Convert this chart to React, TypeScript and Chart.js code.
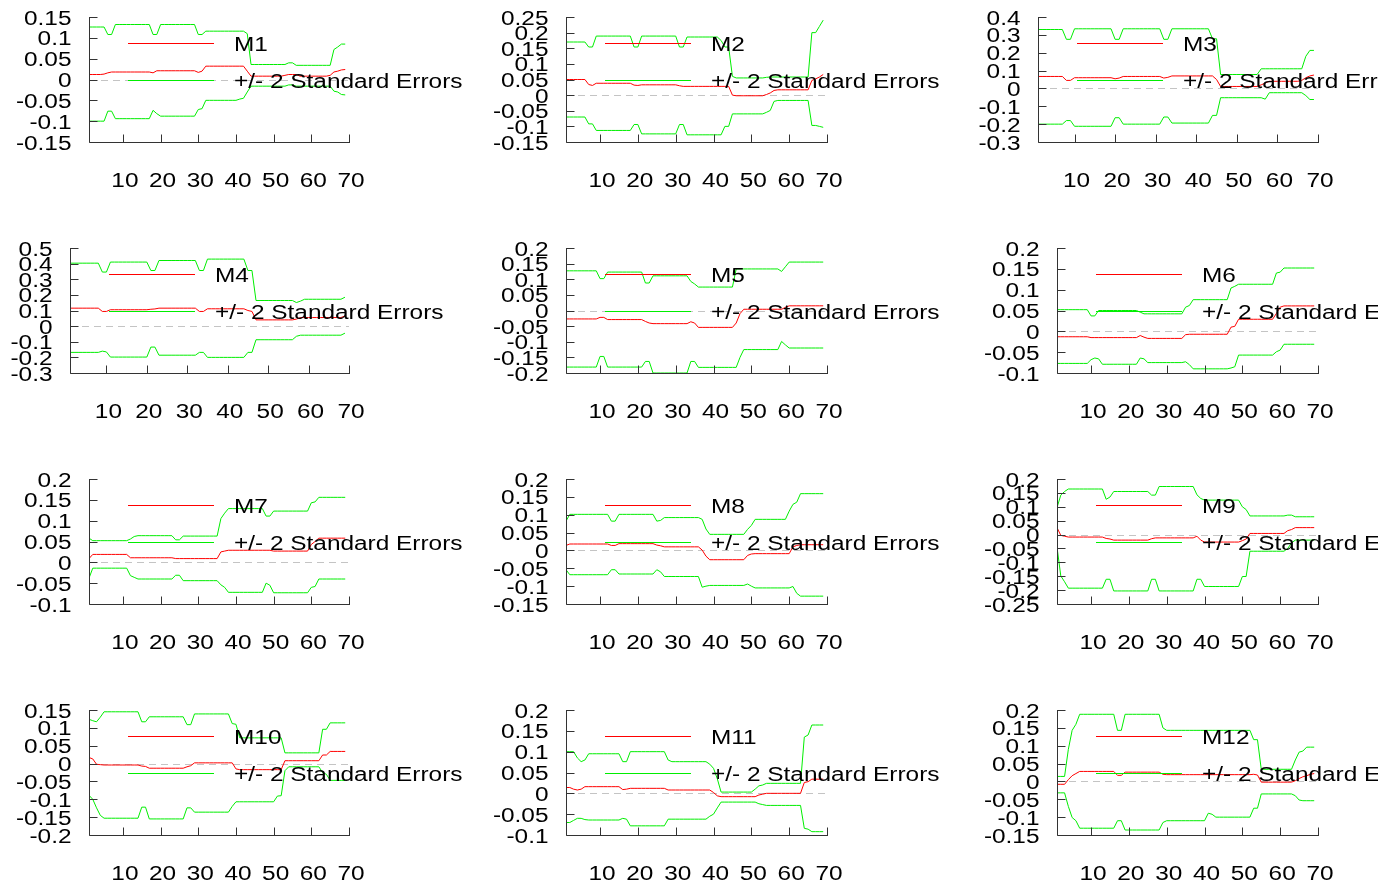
import React, { useEffect, useRef } from "react";
import { Chart, registerables } from "chart.js";
Chart.register(...registerables);

// ---------------- data ----------------
const periods = [
  1, 2, 3, 4, 5, 6, 7, 8, 9, 10, 11, 12, 13, 14, 15, 16, 17, 18, 19, 20,
  21, 22, 23, 24, 25, 26, 27, 28, 29, 30, 31, 32, 33, 34, 35, 36, 37, 38, 39, 40,
  41, 42, 43, 44, 45, 46, 47, 48, 49, 50, 51, 52, 53, 54, 55, 56, 57, 58, 59, 60,
  61, 62, 63, 64, 65, 66, 67, 68, 69,
];
const xTickValues = [10, 20, 30, 40, 50, 60, 70];
const panelTitles = ["M1", "M2", "M3", "M4", "M5", "M6", "M7", "M8", "M9", "M10", "M11", "M12"];
const bandLabel = "+/- 2 Standard Errors";

const yTicksM1 = [-0.15, -0.1, -0.05, 0, 0.05, 0.1, 0.15];
const yTicksM2 = [-0.15, -0.1, -0.05, 0, 0.05, 0.1, 0.15, 0.2, 0.25];
const yTicksM3 = [-0.3, -0.2, -0.1, 0, 0.1, 0.2, 0.3, 0.4];
const yTicksM4 = [-0.3, -0.2, -0.1, 0, 0.1, 0.2, 0.3, 0.4, 0.5];
const yTicksM5 = [-0.2, -0.15, -0.1, -0.05, 0, 0.05, 0.1, 0.15, 0.2];
const yTicksM6 = [-0.1, -0.05, 0, 0.05, 0.1, 0.15, 0.2];
const yTicksM7 = [-0.1, -0.05, 0, 0.05, 0.1, 0.15, 0.2];
const yTicksM8 = [-0.15, -0.1, -0.05, 0, 0.05, 0.1, 0.15, 0.2];
const yTicksM9 = [-0.25, -0.2, -0.15, -0.1, -0.05, 0, 0.05, 0.1, 0.15, 0.2];
const yTicksM10 = [-0.2, -0.15, -0.1, -0.05, 0, 0.05, 0.1, 0.15];
const yTicksM11 = [-0.1, -0.05, 0, 0.05, 0.1, 0.15, 0.2];
const yTicksM12 = [-0.15, -0.1, -0.05, 0, 0.05, 0.1, 0.15, 0.2];

const coefM1 = [
  0.012,0.012,0.012,0.012,0.013,0.016,0.018,0.018,0.018,0.018,
  0.018,0.018,0.018,0.018,0.018,0.018,0.018,0.016,0.021,0.021,
  0.021,0.021,0.021,0.021,0.021,0.021,0.021,0.021,0.021,0.017,
  0.020,0.032,0.032,0.032,0.032,0.032,0.032,0.032,0.032,0.032,
  0.032,0.032,0.020,0.008,0.008,0.008,0.008,0.008,0.008,0.008,
  0.008,0.008,0.010,0.012,0.012,0.012,0.008,0.008,0.008,0.008,
  0.008,0.008,0.008,0.008,0.010,0.018,0.020,0.023,0.024];
const upperM1 = [
  0.126,0.126,0.126,0.126,0.126,0.108,0.108,0.132,0.132,0.132,
  0.132,0.132,0.132,0.132,0.132,0.132,0.132,0.108,0.108,0.132,
  0.132,0.132,0.132,0.132,0.132,0.132,0.132,0.132,0.132,0.108,
  0.108,0.116,0.116,0.116,0.116,0.116,0.116,0.116,0.116,0.116,
  0.116,0.116,0.110,0.036,0.036,0.036,0.036,0.036,0.036,0.036,
  0.036,0.036,0.036,0.040,0.040,0.034,0.034,0.034,0.034,0.034,
  0.034,0.034,0.034,0.034,0.034,0.072,0.078,0.085,0.085];
const lowerM1 = [
  -0.100,-0.100,-0.100,-0.100,-0.100,-0.076,-0.076,-0.094,-0.094,-0.094,
  -0.094,-0.094,-0.094,-0.094,-0.094,-0.094,-0.094,-0.074,-0.082,-0.088,
  -0.088,-0.088,-0.088,-0.088,-0.088,-0.088,-0.088,-0.088,-0.088,-0.072,
  -0.070,-0.050,-0.050,-0.050,-0.050,-0.050,-0.050,-0.050,-0.050,-0.050,
  -0.047,-0.045,-0.030,-0.016,-0.016,-0.016,-0.016,-0.016,-0.016,-0.016,
  -0.016,-0.016,-0.016,-0.013,-0.013,-0.016,-0.016,-0.016,-0.016,-0.016,
  -0.016,-0.016,-0.016,-0.016,-0.016,-0.028,-0.030,-0.036,-0.037];

const coefM2 = [
  0.050,0.050,0.050,0.050,0.050,0.050,0.034,0.031,0.038,0.038,
  0.038,0.038,0.038,0.038,0.038,0.038,0.038,0.038,0.032,0.031,
  0.033,0.033,0.033,0.033,0.033,0.033,0.033,0.033,0.033,0.033,
  0.030,0.028,0.028,0.028,0.028,0.028,0.028,0.028,0.028,0.028,
  0.028,0.028,0.028,0.028,0.000,-0.002,-0.002,-0.002,-0.002,-0.002,
  -0.002,-0.002,-0.002,0.002,0.007,0.015,0.017,0.017,0.017,0.017,
  0.017,0.017,0.017,0.017,0.017,0.047,0.052,0.058,0.066];
const upperM2 = [
  0.170,0.170,0.170,0.170,0.170,0.170,0.154,0.154,0.189,0.189,
  0.189,0.189,0.189,0.189,0.189,0.189,0.189,0.189,0.154,0.154,
  0.189,0.189,0.189,0.189,0.189,0.189,0.189,0.189,0.189,0.189,
  0.154,0.154,0.186,0.186,0.186,0.186,0.186,0.186,0.186,0.186,
  0.186,0.175,0.154,0.154,0.060,0.055,0.055,0.055,0.055,0.055,
  0.055,0.055,0.055,0.057,0.058,0.058,0.058,0.058,0.058,0.058,
  0.058,0.058,0.058,0.058,0.058,0.200,0.200,0.220,0.240];
const lowerM2 = [
  -0.070,-0.070,-0.070,-0.070,-0.070,-0.070,-0.092,-0.092,-0.113,-0.113,
  -0.113,-0.113,-0.113,-0.113,-0.113,-0.113,-0.113,-0.113,-0.094,-0.094,
  -0.124,-0.124,-0.124,-0.124,-0.124,-0.124,-0.124,-0.124,-0.124,-0.124,
  -0.094,-0.094,-0.127,-0.127,-0.127,-0.127,-0.127,-0.127,-0.127,-0.127,
  -0.127,-0.127,-0.100,-0.100,-0.060,-0.060,-0.060,-0.060,-0.060,-0.060,
  -0.060,-0.060,-0.060,-0.055,-0.049,-0.020,-0.017,-0.017,-0.017,-0.017,
  -0.017,-0.017,-0.017,-0.017,-0.017,-0.097,-0.097,-0.100,-0.103];

const coefM3 = [
  0.067,0.067,0.067,0.067,0.067,0.067,0.067,0.045,0.045,0.060,
  0.060,0.060,0.060,0.060,0.060,0.060,0.060,0.060,0.060,0.054,
  0.058,0.067,0.067,0.067,0.067,0.067,0.067,0.067,0.067,0.067,
  0.067,0.058,0.062,0.070,0.070,0.070,0.070,0.070,0.070,0.070,
  0.070,0.070,0.070,0.070,0.050,0.011,0.011,0.011,0.011,0.011,
  0.011,0.011,0.011,0.011,0.011,0.020,0.030,0.040,0.040,0.040,
  0.040,0.040,0.040,0.040,0.040,0.045,0.060,0.070,0.075];
const upperM3 = [
  0.330,0.330,0.330,0.330,0.330,0.330,0.330,0.275,0.275,0.334,
  0.334,0.334,0.334,0.334,0.334,0.334,0.334,0.334,0.334,0.275,
  0.275,0.334,0.334,0.334,0.334,0.334,0.334,0.334,0.334,0.334,
  0.334,0.275,0.275,0.334,0.334,0.334,0.334,0.334,0.334,0.334,
  0.334,0.334,0.334,0.278,0.278,0.078,0.078,0.078,0.078,0.078,
  0.078,0.078,0.078,0.078,0.078,0.110,0.110,0.110,0.110,0.110,
  0.110,0.110,0.110,0.110,0.110,0.110,0.180,0.213,0.213];
const lowerM3 = [
  -0.200,-0.200,-0.200,-0.200,-0.200,-0.200,-0.200,-0.180,-0.180,-0.212,
  -0.212,-0.212,-0.212,-0.212,-0.212,-0.212,-0.212,-0.212,-0.212,-0.164,
  -0.164,-0.200,-0.200,-0.200,-0.200,-0.200,-0.200,-0.200,-0.200,-0.200,
  -0.200,-0.160,-0.160,-0.194,-0.194,-0.194,-0.194,-0.194,-0.194,-0.194,
  -0.194,-0.194,-0.194,-0.151,-0.151,-0.052,-0.052,-0.052,-0.052,-0.052,
  -0.052,-0.052,-0.052,-0.052,-0.052,-0.052,-0.060,-0.024,-0.024,-0.024,
  -0.024,-0.024,-0.024,-0.024,-0.024,-0.024,-0.040,-0.062,-0.062];

const coefM4 = [
  0.115,0.115,0.115,0.115,0.115,0.115,0.115,0.115,0.094,0.094,
  0.105,0.105,0.105,0.105,0.105,0.105,0.105,0.105,0.105,0.105,
  0.108,0.110,0.115,0.115,0.115,0.115,0.115,0.115,0.115,0.115,
  0.115,0.115,0.094,0.094,0.111,0.111,0.111,0.111,0.111,0.111,
  0.111,0.111,0.111,0.111,0.100,0.094,0.040,0.040,0.040,0.040,
  0.040,0.040,0.040,0.040,0.040,0.040,0.045,0.055,0.055,0.055,
  0.055,0.055,0.055,0.055,0.055,0.055,0.055,0.055,0.065];
const upperM4 = [
  0.403,0.403,0.403,0.403,0.403,0.403,0.403,0.403,0.346,0.346,
  0.410,0.410,0.410,0.410,0.410,0.410,0.410,0.410,0.410,0.410,
  0.356,0.356,0.420,0.420,0.420,0.420,0.420,0.420,0.420,0.420,
  0.420,0.420,0.356,0.356,0.429,0.429,0.429,0.429,0.429,0.429,
  0.429,0.429,0.429,0.429,0.356,0.356,0.164,0.164,0.164,0.164,
  0.164,0.164,0.164,0.164,0.164,0.164,0.151,0.160,0.172,0.172,
  0.172,0.172,0.172,0.172,0.172,0.172,0.172,0.172,0.185];
const lowerM4 = [
  -0.168,-0.168,-0.168,-0.168,-0.168,-0.168,-0.168,-0.168,-0.160,-0.165,
  -0.198,-0.198,-0.198,-0.198,-0.198,-0.198,-0.198,-0.198,-0.198,-0.198,
  -0.134,-0.134,-0.186,-0.186,-0.186,-0.186,-0.186,-0.186,-0.186,-0.186,
  -0.186,-0.186,-0.168,-0.168,-0.200,-0.200,-0.200,-0.200,-0.200,-0.200,
  -0.200,-0.200,-0.200,-0.200,-0.168,-0.168,-0.087,-0.087,-0.087,-0.087,
  -0.087,-0.087,-0.087,-0.087,-0.087,-0.087,-0.065,-0.058,-0.058,-0.058,
  -0.058,-0.058,-0.058,-0.058,-0.058,-0.058,-0.058,-0.058,-0.045];

const coefM5 = [
  -0.027,-0.027,-0.027,-0.027,-0.027,-0.027,-0.027,-0.027,-0.027,-0.022,
  -0.022,-0.029,-0.029,-0.029,-0.029,-0.029,-0.029,-0.029,-0.029,-0.029,
  -0.029,-0.035,-0.040,-0.042,-0.042,-0.042,-0.042,-0.042,-0.042,-0.042,
  -0.042,-0.042,-0.042,-0.036,-0.040,-0.054,-0.054,-0.054,-0.054,-0.054,
  -0.054,-0.054,-0.054,-0.054,-0.054,-0.040,-0.010,0.004,0.004,0.004,
  0.004,0.004,0.004,0.004,0.004,0.004,0.004,0.004,0.010,0.015,
  0.015,0.015,0.015,0.015,0.015,0.015,0.015,0.015,0.015];
const upperM5 = [
  0.127,0.127,0.127,0.127,0.127,0.127,0.127,0.127,0.127,0.102,
  0.102,0.123,0.123,0.123,0.123,0.123,0.123,0.123,0.123,0.123,
  0.123,0.088,0.088,0.111,0.111,0.111,0.111,0.111,0.111,0.111,
  0.111,0.111,0.111,0.093,0.085,0.075,0.075,0.075,0.075,0.075,
  0.075,0.075,0.075,0.075,0.075,0.133,0.133,0.133,0.133,0.133,
  0.133,0.133,0.133,0.133,0.133,0.133,0.133,0.125,0.140,0.155,
  0.155,0.155,0.155,0.155,0.155,0.155,0.155,0.155,0.155];
const lowerM5 = [
  -0.181,-0.181,-0.181,-0.181,-0.181,-0.181,-0.181,-0.181,-0.181,-0.147,
  -0.147,-0.181,-0.181,-0.181,-0.181,-0.181,-0.181,-0.181,-0.181,-0.181,
  -0.181,-0.163,-0.163,-0.200,-0.200,-0.200,-0.200,-0.200,-0.200,-0.200,
  -0.200,-0.200,-0.200,-0.163,-0.163,-0.182,-0.182,-0.182,-0.182,-0.182,
  -0.182,-0.182,-0.182,-0.182,-0.182,-0.182,-0.150,-0.125,-0.125,-0.125,
  -0.125,-0.125,-0.125,-0.125,-0.125,-0.125,-0.125,-0.099,-0.110,-0.120,
  -0.120,-0.120,-0.120,-0.120,-0.120,-0.120,-0.120,-0.120,-0.120];

const coefM6 = [
  -0.013,-0.013,-0.013,-0.013,-0.013,-0.013,-0.013,-0.013,-0.013,-0.015,
  -0.015,-0.015,-0.015,-0.015,-0.015,-0.015,-0.015,-0.015,-0.015,-0.015,
  -0.015,-0.015,-0.010,-0.014,-0.017,-0.017,-0.017,-0.017,-0.017,-0.017,
  -0.017,-0.017,-0.017,-0.017,-0.008,-0.007,-0.007,-0.007,-0.007,-0.007,
  -0.007,-0.007,-0.007,-0.007,-0.007,-0.007,0.010,0.012,0.029,0.029,
  0.029,0.029,0.029,0.029,0.029,0.029,0.029,0.029,0.043,0.058,
  0.061,0.061,0.061,0.061,0.061,0.061,0.061,0.061,0.061];
const upperM6 = [
  0.052,0.052,0.052,0.052,0.052,0.052,0.052,0.052,0.052,0.037,
  0.037,0.050,0.050,0.050,0.050,0.050,0.050,0.050,0.050,0.050,
  0.050,0.050,0.046,0.042,0.042,0.042,0.042,0.042,0.042,0.042,
  0.042,0.042,0.042,0.042,0.058,0.062,0.076,0.076,0.076,0.076,
  0.076,0.076,0.076,0.076,0.076,0.076,0.104,0.108,0.113,0.113,
  0.113,0.113,0.113,0.113,0.113,0.113,0.113,0.113,0.140,0.142,
  0.152,0.152,0.152,0.152,0.152,0.152,0.152,0.152,0.152];
const lowerM6 = [
  -0.077,-0.077,-0.077,-0.077,-0.077,-0.077,-0.077,-0.077,-0.077,-0.068,
  -0.064,-0.066,-0.079,-0.079,-0.079,-0.079,-0.079,-0.079,-0.079,-0.079,
  -0.079,-0.079,-0.064,-0.066,-0.075,-0.075,-0.075,-0.075,-0.075,-0.075,
  -0.075,-0.075,-0.075,-0.075,-0.073,-0.080,-0.090,-0.090,-0.090,-0.090,
  -0.090,-0.090,-0.090,-0.090,-0.090,-0.090,-0.088,-0.085,-0.057,-0.057,
  -0.057,-0.057,-0.057,-0.057,-0.057,-0.057,-0.057,-0.057,-0.049,-0.045,
  -0.031,-0.031,-0.031,-0.031,-0.031,-0.031,-0.031,-0.031,-0.031];

const coefM7 = [
  0.009,0.019,0.019,0.019,0.019,0.019,0.019,0.019,0.019,0.019,
  0.019,0.011,0.011,0.011,0.011,0.011,0.011,0.011,0.011,0.011,
  0.011,0.011,0.011,0.009,0.009,0.009,0.009,0.009,0.009,0.009,
  0.009,0.009,0.009,0.009,0.009,0.025,0.027,0.029,0.029,0.029,
  0.029,0.029,0.029,0.029,0.029,0.029,0.029,0.029,0.029,0.027,
  0.027,0.027,0.027,0.027,0.027,0.027,0.027,0.027,0.027,0.043,
  0.050,0.058,0.058,0.058,0.058,0.058,0.058,0.058,0.058];
const upperM7 = [
  0.058,0.052,0.052,0.052,0.052,0.052,0.052,0.052,0.052,0.052,
  0.052,0.056,0.062,0.064,0.064,0.064,0.064,0.064,0.064,0.064,
  0.064,0.064,0.064,0.054,0.054,0.063,0.063,0.063,0.063,0.063,
  0.063,0.063,0.063,0.063,0.063,0.105,0.118,0.129,0.129,0.129,
  0.129,0.129,0.129,0.129,0.129,0.129,0.129,0.111,0.111,0.123,
  0.123,0.123,0.123,0.123,0.123,0.123,0.123,0.123,0.123,0.143,
  0.145,0.156,0.156,0.156,0.156,0.156,0.156,0.156,0.156];
const lowerM7 = [
  -0.038,-0.014,-0.014,-0.014,-0.014,-0.014,-0.014,-0.014,-0.014,-0.014,
  -0.014,-0.032,-0.036,-0.040,-0.040,-0.040,-0.040,-0.040,-0.040,-0.040,
  -0.040,-0.040,-0.040,-0.031,-0.031,-0.044,-0.044,-0.044,-0.044,-0.044,
  -0.044,-0.044,-0.044,-0.044,-0.044,-0.054,-0.060,-0.072,-0.072,-0.072,
  -0.072,-0.072,-0.072,-0.072,-0.072,-0.072,-0.072,-0.050,-0.055,-0.073,
  -0.073,-0.073,-0.073,-0.073,-0.073,-0.073,-0.073,-0.073,-0.073,-0.060,
  -0.058,-0.040,-0.040,-0.040,-0.040,-0.040,-0.040,-0.040,-0.040];

const coefM8 = [
  0.014,0.018,0.018,0.018,0.018,0.018,0.018,0.018,0.018,0.018,
  0.018,0.018,0.014,0.014,0.019,0.019,0.019,0.019,0.019,0.019,
  0.019,0.019,0.019,0.019,0.015,0.013,0.010,0.010,0.010,0.010,
  0.010,0.010,0.010,0.010,0.010,0.010,0.001,-0.016,-0.026,-0.026,
  -0.026,-0.026,-0.026,-0.026,-0.026,-0.026,-0.026,-0.026,-0.014,-0.010,
  -0.009,-0.009,-0.009,-0.009,-0.009,-0.009,-0.009,-0.009,-0.009,-0.009,
  0.010,0.014,0.016,0.016,0.016,0.016,0.016,0.016,0.016];
const upperM8 = [
  0.082,0.101,0.101,0.101,0.101,0.101,0.101,0.101,0.101,0.101,
  0.101,0.101,0.082,0.082,0.101,0.101,0.101,0.101,0.101,0.101,
  0.101,0.101,0.101,0.101,0.082,0.084,0.092,0.092,0.092,0.092,
  0.092,0.092,0.092,0.092,0.092,0.092,0.087,0.060,0.045,0.045,
  0.045,0.045,0.045,0.045,0.045,0.045,0.045,0.045,0.059,0.070,
  0.087,0.087,0.087,0.087,0.087,0.087,0.087,0.087,0.087,0.110,
  0.129,0.135,0.159,0.159,0.159,0.159,0.159,0.159,0.159];
const lowerM8 = [
  -0.054,-0.068,-0.068,-0.068,-0.068,-0.068,-0.068,-0.068,-0.068,-0.068,
  -0.068,-0.068,-0.054,-0.054,-0.066,-0.066,-0.066,-0.066,-0.066,-0.066,
  -0.066,-0.066,-0.066,-0.066,-0.054,-0.060,-0.073,-0.073,-0.073,-0.073,
  -0.073,-0.073,-0.073,-0.073,-0.073,-0.073,-0.103,-0.100,-0.098,-0.098,
  -0.098,-0.098,-0.098,-0.098,-0.098,-0.098,-0.098,-0.098,-0.094,-0.100,
  -0.105,-0.105,-0.105,-0.105,-0.105,-0.105,-0.105,-0.105,-0.105,-0.105,
  -0.101,-0.120,-0.128,-0.128,-0.128,-0.128,-0.128,-0.128,-0.128];

const coefM9 = [
  0.025,-0.003,-0.006,-0.009,-0.009,-0.009,-0.009,-0.009,-0.009,-0.009,
  -0.009,-0.009,-0.009,-0.014,-0.016,-0.020,-0.020,-0.020,-0.020,-0.020,
  -0.020,-0.020,-0.020,-0.020,-0.020,-0.015,-0.012,-0.012,-0.012,-0.012,
  -0.012,-0.012,-0.012,-0.012,-0.012,-0.012,-0.012,-0.006,-0.020,-0.027,
  -0.027,-0.027,-0.027,-0.027,-0.027,-0.027,-0.027,-0.027,-0.027,-0.022,
  -0.016,0.004,0.004,0.004,0.004,0.004,0.004,0.004,0.004,0.004,
  0.004,0.014,0.018,0.025,0.025,0.025,0.025,0.025,0.025];
const upperM9 = [
  0.097,0.142,0.155,0.164,0.164,0.164,0.164,0.164,0.164,0.164,
  0.164,0.164,0.164,0.127,0.135,0.155,0.155,0.155,0.155,0.155,
  0.155,0.155,0.155,0.155,0.155,0.142,0.142,0.173,0.173,0.173,
  0.173,0.173,0.173,0.173,0.173,0.173,0.173,0.143,0.130,0.124,
  0.124,0.124,0.124,0.124,0.124,0.124,0.124,0.124,0.124,0.100,
  0.090,0.067,0.067,0.067,0.067,0.067,0.067,0.067,0.067,0.067,
  0.067,0.070,0.070,0.064,0.064,0.064,0.064,0.064,0.064];
const lowerM9 = [
  -0.045,-0.149,-0.170,-0.193,-0.193,-0.193,-0.193,-0.193,-0.193,-0.193,
  -0.193,-0.193,-0.193,-0.161,-0.161,-0.203,-0.203,-0.203,-0.203,-0.203,
  -0.203,-0.203,-0.203,-0.203,-0.203,-0.161,-0.161,-0.203,-0.203,-0.203,
  -0.203,-0.203,-0.203,-0.203,-0.203,-0.203,-0.203,-0.161,-0.161,-0.187,
  -0.187,-0.187,-0.187,-0.187,-0.187,-0.187,-0.187,-0.187,-0.187,-0.151,
  -0.151,-0.060,-0.060,-0.060,-0.060,-0.060,-0.060,-0.060,-0.060,-0.060,
  -0.060,-0.050,-0.030,-0.020,-0.020,-0.020,-0.020,-0.020,-0.020];

const coefM10 = [
  0.017,0.013,-0.002,-0.003,-0.004,-0.004,-0.004,-0.004,-0.004,-0.004,
  -0.004,-0.004,-0.004,-0.004,-0.007,-0.008,-0.013,-0.013,-0.013,-0.013,
  -0.013,-0.013,-0.013,-0.013,-0.013,-0.013,-0.009,-0.006,0.002,0.002,
  0.002,0.002,0.002,0.002,0.002,0.002,0.002,0.002,0.002,-0.015,
  -0.017,-0.017,-0.017,-0.017,-0.017,-0.017,-0.017,-0.017,-0.017,-0.017,
  -0.017,-0.017,0.008,0.008,0.008,0.008,0.008,0.008,0.008,0.008,
  0.008,0.008,0.024,0.024,0.034,0.034,0.034,0.034,0.034];
const upperM10 = [
  0.124,0.120,0.117,0.130,0.145,0.145,0.145,0.145,0.145,0.145,
  0.145,0.145,0.145,0.145,0.117,0.117,0.131,0.131,0.131,0.131,
  0.131,0.131,0.131,0.131,0.131,0.131,0.109,0.109,0.139,0.139,
  0.139,0.139,0.139,0.139,0.139,0.139,0.139,0.139,0.112,0.110,
  0.072,0.072,0.072,0.072,0.072,0.072,0.072,0.072,0.072,0.072,
  0.072,0.072,0.030,0.030,0.030,0.030,0.030,0.030,0.030,0.030,
  0.030,0.030,0.096,0.096,0.114,0.114,0.114,0.114,0.114];
const lowerM10 = [
  -0.089,-0.100,-0.124,-0.145,-0.153,-0.153,-0.153,-0.153,-0.153,-0.153,
  -0.153,-0.153,-0.153,-0.153,-0.122,-0.122,-0.155,-0.155,-0.155,-0.155,
  -0.155,-0.155,-0.155,-0.155,-0.155,-0.155,-0.124,-0.124,-0.136,-0.136,
  -0.136,-0.136,-0.136,-0.136,-0.136,-0.136,-0.136,-0.136,-0.120,-0.107,
  -0.107,-0.107,-0.107,-0.107,-0.107,-0.107,-0.107,-0.107,-0.107,-0.107,
  -0.091,-0.090,-0.020,-0.009,-0.009,-0.009,-0.009,-0.009,-0.009,-0.009,
  -0.009,-0.009,-0.025,-0.030,-0.047,-0.047,-0.047,-0.047,-0.047];

const coefM11 = [
  0.014,0.014,0.010,0.008,0.010,0.016,0.016,0.016,0.016,0.016,
  0.016,0.016,0.016,0.016,0.016,0.009,0.010,0.012,0.012,0.012,
  0.012,0.012,0.012,0.012,0.012,0.012,0.012,0.008,0.008,0.008,
  0.008,0.008,0.008,0.008,0.008,0.008,0.008,0.008,0.008,0.002,
  -0.006,-0.008,-0.008,-0.008,-0.008,-0.008,-0.008,-0.008,-0.008,-0.008,
  -0.008,-0.004,-0.002,0.000,0.000,0.000,0.000,0.000,0.000,0.000,
  0.000,0.000,0.000,0.026,0.028,0.034,0.034,0.034,0.034];
const upperM11 = [
  0.100,0.100,0.100,0.085,0.076,0.080,0.095,0.095,0.095,0.095,
  0.095,0.095,0.095,0.095,0.095,0.076,0.076,0.100,0.100,0.100,
  0.100,0.100,0.100,0.100,0.100,0.100,0.100,0.080,0.076,0.076,
  0.076,0.076,0.076,0.076,0.076,0.076,0.076,0.076,0.070,0.060,
  0.035,0.003,0.003,0.003,0.003,0.003,0.003,0.003,0.003,0.003,
  0.010,0.018,0.020,0.024,0.024,0.024,0.024,0.024,0.024,0.024,
  0.024,0.024,0.024,0.135,0.140,0.164,0.164,0.164,0.164];
const lowerM11 = [
  -0.070,-0.070,-0.065,-0.060,-0.060,-0.063,-0.064,-0.064,-0.064,-0.064,
  -0.064,-0.064,-0.064,-0.064,-0.064,-0.060,-0.062,-0.078,-0.078,-0.078,
  -0.078,-0.078,-0.078,-0.078,-0.078,-0.078,-0.078,-0.062,-0.062,-0.062,
  -0.062,-0.062,-0.062,-0.062,-0.062,-0.062,-0.062,-0.062,-0.055,-0.050,
  -0.035,-0.021,-0.021,-0.021,-0.021,-0.021,-0.021,-0.021,-0.021,-0.021,
  -0.021,-0.025,-0.027,-0.029,-0.029,-0.029,-0.029,-0.029,-0.029,-0.029,
  -0.029,-0.029,-0.029,-0.084,-0.086,-0.092,-0.092,-0.092,-0.092];

const coefM12 = [
  -0.008,-0.008,-0.008,0.005,0.016,0.022,0.028,0.028,0.028,0.028,
  0.028,0.028,0.028,0.028,0.028,0.028,0.017,0.017,0.026,0.026,
  0.026,0.026,0.026,0.026,0.026,0.026,0.026,0.026,0.020,0.019,
  0.019,0.019,0.019,0.019,0.019,0.019,0.019,0.019,0.019,0.019,
  0.019,0.019,0.019,0.019,0.019,0.019,0.019,0.019,0.019,0.019,
  0.019,0.019,0.020,0.018,-0.002,-0.002,-0.002,-0.002,-0.002,-0.002,
  -0.002,-0.002,-0.002,0.002,0.008,0.013,0.016,0.020,0.022];
const upperM12 = [
  0.014,0.014,0.014,0.090,0.143,0.160,0.188,0.188,0.188,0.188,
  0.188,0.188,0.188,0.188,0.188,0.188,0.143,0.143,0.188,0.188,
  0.188,0.188,0.188,0.188,0.188,0.188,0.188,0.188,0.150,0.143,
  0.143,0.143,0.143,0.143,0.143,0.143,0.143,0.143,0.143,0.143,
  0.143,0.143,0.143,0.143,0.143,0.143,0.143,0.143,0.143,0.143,
  0.143,0.143,0.117,0.117,0.034,0.034,0.034,0.034,0.034,0.034,
  0.034,0.034,0.034,0.060,0.082,0.085,0.096,0.096,0.096];
const lowerM12 = [
  -0.032,-0.032,-0.032,-0.070,-0.101,-0.110,-0.131,-0.131,-0.131,-0.131,
  -0.131,-0.131,-0.131,-0.131,-0.131,-0.131,-0.110,-0.110,-0.136,-0.136,
  -0.136,-0.136,-0.136,-0.136,-0.136,-0.136,-0.136,-0.136,-0.115,-0.110,
  -0.110,-0.110,-0.110,-0.110,-0.110,-0.110,-0.110,-0.110,-0.110,-0.110,
  -0.089,-0.092,-0.100,-0.100,-0.100,-0.100,-0.100,-0.100,-0.100,-0.100,
  -0.100,-0.100,-0.075,-0.075,-0.035,-0.035,-0.035,-0.035,-0.035,-0.035,
  -0.035,-0.035,-0.035,-0.040,-0.052,-0.054,-0.054,-0.054,-0.054];

const panels = [
  { coef: coefM1, upper: upperM1, lower: lowerM1, yTicks: yTicksM1 },
  { coef: coefM2, upper: upperM2, lower: lowerM2, yTicks: yTicksM2 },
  { coef: coefM3, upper: upperM3, lower: lowerM3, yTicks: yTicksM3 },
  { coef: coefM4, upper: upperM4, lower: lowerM4, yTicks: yTicksM4 },
  { coef: coefM5, upper: upperM5, lower: lowerM5, yTicks: yTicksM5 },
  { coef: coefM6, upper: upperM6, lower: lowerM6, yTicks: yTicksM6 },
  { coef: coefM7, upper: upperM7, lower: lowerM7, yTicks: yTicksM7 },
  { coef: coefM8, upper: upperM8, lower: lowerM8, yTicks: yTicksM8 },
  { coef: coefM9, upper: upperM9, lower: lowerM9, yTicks: yTicksM9 },
  { coef: coefM10, upper: upperM10, lower: lowerM10, yTicks: yTicksM10 },
  { coef: coefM11, upper: upperM11, lower: lowerM11, yTicks: yTicksM11 },
  { coef: coefM12, upper: upperM12, lower: lowerM12, yTicks: yTicksM12 },
];

// ---------------- layout / style ----------------
const COL_LEFT = [0, 478, 960];
const COL_WIDTH = [470, 472, 418];
const COL_PLOT_RIGHT = [349, 827, 1318];
const ROW_TOP = [0, 231, 462, 693];
const AXIS_X = [89, 566, 1038, 70, 566, 1057, 89, 566, 1057, 89, 566, 1057];
const PLOT_TOP_OFFSET = 17;
const PLOT_HEIGHT = 125;
const CANVAS_HEIGHT = 192;

const RED = "#ff0000";
const GREEN = "#00ee00";
const AXIS_COLOR = "#333333";
const FONT_PX = 20;
const FONT = `${FONT_PX}px "Liberation Sans", Arial, sans-serif`;
const STRETCH = 1.22;

function drawText(ctx: CanvasRenderingContext2D, text: string, x: number, y: number, align: string) {
  ctx.save();
  ctx.font = FONT;
  const w = ctx.measureText(text).width * STRETCH;
  const left = align === "right" ? x - w : align === "center" ? x - w / 2 : x;
  ctx.translate(left, y);
  ctx.scale(STRETCH, 1);
  ctx.textAlign = "left";
  ctx.textBaseline = "middle";
  ctx.fillStyle = "#000";
  ctx.fillText(text, 0, 0);
  ctx.restore();
}

const decorPlugin = {
  id: "panelDecor",
  beforeDatasetsDraw(chart: any) {
    const { ctx, chartArea: a, scales } = chart;
    const y0 = Math.round(scales.y.getPixelForValue(0)) + 0.5;
    ctx.save();
    ctx.strokeStyle = "#c4c4c4";
    ctx.lineWidth = 1;
    ctx.setLineDash([7, 5]);
    ctx.beginPath();
    ctx.moveTo(a.left, y0);
    ctx.lineTo(a.right, y0);
    ctx.stroke();
    ctx.restore();
  },
  afterDatasetsDraw(chart: any) {
    const { ctx, chartArea: a, scales } = chart;
    const opts = chart.options.plugins.panelDecor;
    const xs = scales.x;
    const ys = scales.y;
    const L = Math.round(a.left) + 0.5;
    const B = Math.round(a.bottom) + 0.5;
    ctx.save();
    ctx.strokeStyle = AXIS_COLOR;
    ctx.lineWidth = 1;
    ctx.beginPath();
    ctx.moveTo(L, Math.round(a.top));
    ctx.lineTo(L, B);
    ctx.lineTo(Math.round(a.right) + 1, B);
    for (const t of ys.ticks) {
      const py = Math.round(ys.getPixelForValue(t.value)) + 0.5;
      ctx.moveTo(L, py);
      ctx.lineTo(L + 8, py);
    }
    for (const t of xs.ticks) {
      const px = Math.round(xs.getPixelForValue(t.value)) + 0.5;
      ctx.moveTo(px, B);
      ctx.lineTo(px, B - 8);
    }
    ctx.stroke();
    ctx.restore();

    for (const t of ys.ticks) {
      const py = ys.getPixelForValue(t.value);
      drawText(ctx, String(t.value), L - 18, py + 2, "right");
    }
    for (const t of xs.ticks) {
      const px = xs.getPixelForValue(t.value);
      drawText(ctx, String(t.value), px + 2, B + 39, "center");
    }

    // legend
    const top = Math.round(a.top);
    const ly1 = top + 26 + 0.5;
    const ly2 = top + 63 + 0.5;
    const lx0 = Math.round(a.left) + 39;
    const lx1 = Math.round(a.left) + 125;
    const tx = Math.round(a.left) + 145;
    ctx.save();
    ctx.lineWidth = 1;
    ctx.strokeStyle = RED;
    ctx.beginPath();
    ctx.moveTo(lx0, ly1);
    ctx.lineTo(lx1, ly1);
    ctx.stroke();
    ctx.strokeStyle = GREEN;
    ctx.beginPath();
    ctx.moveTo(lx0, ly2);
    ctx.lineTo(lx1, ly2);
    ctx.stroke();
    ctx.restore();
    drawText(ctx, opts.title, tx, ly1 + 1.5, "left");
    drawText(ctx, opts.band, tx, ly2 + 1.5, "left");
  },
};

function Panel({ idx }: { idx: number }) {
  const ref = useRef<HTMLCanvasElement | null>(null);
  const col = idx % 3;
  const row = Math.floor(idx / 3);
  const canvasLeft = COL_LEFT[col];
  const canvasTop = ROW_TOP[row];
  const width = COL_WIDTH[col];
  const height = CANVAS_HEIGHT;

  useEffect(() => {
    const p = panels[idx];
    const yMin = p.yTicks[0];
    const yMax = p.yTicks[p.yTicks.length - 1];
    const yAxisWidth = AXIS_X[idx] - canvasLeft;
    const padRight = canvasLeft + width - COL_PLOT_RIGHT[col];
    const xAxisHeight = height - PLOT_TOP_OFFSET - PLOT_HEIGHT;
    const mk = (vals: number[]) => periods.map((x, i) => ({ x, y: vals[i] }));
    const chart = new Chart(ref.current as HTMLCanvasElement, {
      type: "line",
      data: {
        datasets: [
          { label: panelTitles[idx], data: mk(p.coef), borderColor: RED, borderWidth: 1, pointRadius: 0, tension: 0, fill: false },
          { label: bandLabel, data: mk(p.upper), borderColor: GREEN, borderWidth: 1, pointRadius: 0, tension: 0, fill: false },
          { label: bandLabel + " lower", data: mk(p.lower), borderColor: GREEN, borderWidth: 1, pointRadius: 0, tension: 0, fill: false },
        ],
      },
      options: {
        responsive: false,
        maintainAspectRatio: false,
        animation: false,
        devicePixelRatio: 1,
        events: [],
        layout: { padding: { top: PLOT_TOP_OFFSET, right: padRight, left: 0, bottom: 0 } },
        plugins: {
          legend: { display: false },
          tooltip: { enabled: false },
          panelDecor: { title: panelTitles[idx], band: bandLabel },
        } as any,
        scales: {
          x: {
            type: "linear",
            min: 1,
            max: 70,
            afterBuildTicks: (s: any) => { s.ticks = xTickValues.map((v) => ({ value: v })); },
            afterFit: (s: any) => { s.height = xAxisHeight; },
            ticks: { display: false },
            grid: { display: false, drawTicks: false },
            border: { display: false },
          },
          y: {
            type: "linear",
            min: yMin,
            max: yMax,
            afterBuildTicks: (s: any) => { s.ticks = p.yTicks.map((v) => ({ value: v })); },
            afterFit: (s: any) => { s.width = yAxisWidth; },
            ticks: { display: false },
            grid: { display: false, drawTicks: false },
            border: { display: false },
          },
        } as any,
      },
      plugins: [decorPlugin],
    });
    return () => chart.destroy();
  }, [idx]);

  return (
    <canvas
      ref={ref}
      width={width}
      height={height}
      style={{ position: "absolute", left: canvasLeft, top: canvasTop, width, height }}
    />
  );
}

export default function App() {
  return (
    <div style={{ position: "absolute", left: 0, top: 0, width: 1383, height: 887, background: "#fff", overflow: "hidden" }}>
      {panels.map((_, i) => (
        <Panel key={i} idx={i} />
      ))}
    </div>
  );
}
